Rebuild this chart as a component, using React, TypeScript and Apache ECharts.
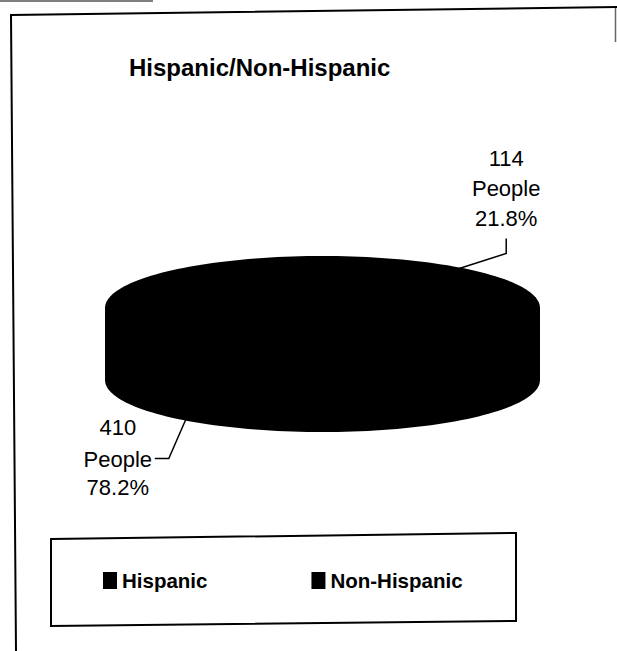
import React, { useEffect, useRef } from "react";
import * as echarts from "echarts";

const categories: string[] = ["Hispanic", "Non-Hispanic"];
const peopleCounts: number[] = [114, 410];
const titleText = "Hispanic/Non-Hispanic";
const unitLabel = "People";

const FONT = '"Liberation Sans", Arial, sans-serif';
const PIE = { cx: 322.5, cy: 308, rx: 216.5, ry: 51, depth: 72 };

function pt(angleDeg: number, dy = 0): number[] {
  const a = (angleDeg * Math.PI) / 180;
  return [PIE.cx + PIE.rx * Math.sin(a), PIE.cy - PIE.ry * Math.cos(a) + dy];
}

function arcPoints(a0: number, a1: number, dy: number): number[][] {
  const n = Math.max(2, Math.ceil((a1 - a0) / 2));
  const pts: number[][] = [];
  for (let i = 0; i <= n; i++) pts.push(pt(a0 + ((a1 - a0) * i) / n, dy));
  return pts;
}

const sum = (arr: number[]) => arr.reduce((s, v) => s + v, 0);

function makeRenderer(k: number) {
  return (params: any, api: any) => {
    const value = api.value(1);
    const total = sum(peopleCounts);
    const before = sum(peopleCounts.slice(0, k));
    const a0 = (before / total) * 360;
    const a1 = ((before + value) / total) * 360;
    const color = api.visual("color");
    const children: any[] = [];
    const s0 = Math.max(a0, 90);
    const s1 = Math.min(a1, 270);
    if (s1 > s0) {
      const top = arcPoints(s0, s1, 0);
      const bot = arcPoints(s0, s1, PIE.depth).reverse();
      children.push({
        type: "polygon",
        shape: { points: top.concat(bot) },
        style: { fill: color, stroke: color, lineWidth: 2, lineJoin: "round" },
      });
    }
    children.push({
      type: "polygon",
      shape: { points: [[PIE.cx, PIE.cy]].concat(arcPoints(a0, a1, 0)) },
      style: { fill: color, stroke: color, lineWidth: 2, lineJoin: "round" },
    });

    const mid = (a0 + a1) / 2;
    const m = (mid * Math.PI) / 180;
    const front = Math.cos(m) < 0;
    const right = Math.sin(m) >= 0;
    const anchor = pt(mid, front ? PIE.depth : 0);
    let elbow: number[];
    let end: number[];
    let tx: number;
    let ys: number[];
    if (!front) {
      const dx = right ? 47 : -47;
      elbow = [anchor[0] + dx, anchor[1] - 15];
      end = [elbow[0], elbow[1] - 15];
      tx = end[0];
      ys = [end[1] - 80, end[1] - 50, end[1] - 20];
    } else {
      const dx = right ? 17 : -17;
      elbow = [anchor[0] + dx, anchor[1] + 39];
      end = [elbow[0] + (right ? 14 : -14), elbow[1]];
      tx = end[0] + (right ? 37 : -37);
      ys = [end[1] - 31, end[1] + 1, end[1] + 29];
    }
    children.push({
      type: "polyline",
      shape: { points: [anchor, elbow, end] },
      style: { stroke: "#000", lineWidth: 1.5, fill: null },
    });
    const pct = ((value / total) * 100).toFixed(1) + "%";
    const lines = [String(value), unitLabel, pct];
    lines.forEach((t, i) => {
      children.push({
        type: "text",
        style: {
          text: t,
          x: tx,
          y: ys[i],
          fill: "#000",
          font: `22px ${FONT}`,
          align: "center",
          verticalAlign: "middle",
        },
      });
    });
    return { type: "group", children };
  };
}

export default function App() {
  const ref = useRef<HTMLDivElement>(null);
  useEffect(() => {
    document.body.style.margin = "0";
    const chart = echarts.init(ref.current!, null, { renderer: "svg" });
    chart.setOption({
      animation: false,
      backgroundColor: "#fff",
      title: {
        text: titleText,
        left: 129,
        top: 55,
        padding: 0,
        textStyle: { fontFamily: FONT, fontSize: 24, fontWeight: "bold", color: "#000" },
      },
      legend: {
        left: 103,
        top: 570,
        padding: 0,
        icon: "rect",
        itemWidth: 14,
        itemHeight: 17,
        itemGap: 104,
        itemTextGap: 8,
        selectedMode: false,
        data: categories,
        textStyle: { fontFamily: FONT, fontSize: 20.5, fontWeight: "bold", color: "#000" },
      },
      graphic: [
        { type: "line", shape: { x1: 0, y1: 1, x2: 153, y2: 1 }, style: { stroke: "#555", lineWidth: 1.5 } },
        { type: "polyline", shape: { points: [[16, 651], [11, 15], [617, 7]] }, style: { stroke: "#000", lineWidth: 2, fill: null } },
        { type: "line", shape: { x1: 615.5, y1: 8, x2: 615.5, y2: 42 }, style: { stroke: "#666", lineWidth: 1.5 } },
        { type: "polygon", shape: { points: [[51, 539], [516, 533], [516, 621], [51, 626]] }, style: { stroke: "#000", lineWidth: 2, fill: null } },
      ],
      series: categories.map((name, k) => ({
        type: "custom",
        name,
        coordinateSystem: "none",
        itemStyle: { color: "#000" },
        data: [{ name, value: [k, peopleCounts[k]] }],
        renderItem: makeRenderer(k),
      })),
    });
    return () => chart.dispose();
  }, []);
  return <div ref={ref} style={{ width: 617, height: 651 }} />;
}
